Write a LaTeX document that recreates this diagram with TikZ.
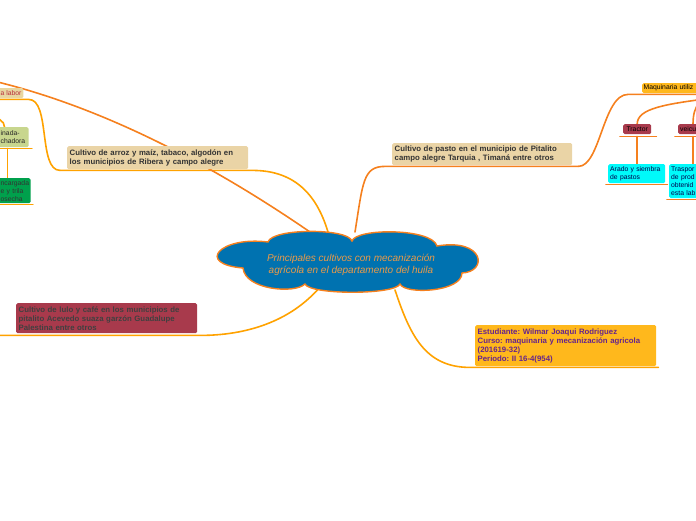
\documentclass[tikz,border=0pt]{standalone}
\usepackage{fontspec}
\setmainfont{Liberation Sans}
\frenchspacing
\usetikzlibrary{calc}
\pgfdeclarelayer{back}
\pgfsetlayers{back,main}
\definecolor{mapO}{RGB}{245,128,30}
\definecolor{mapY}{RGB}{255,162,0}
\definecolor{mapB}{RGB}{0,114,176}
\definecolor{mapT}{RGB}{234,212,166}
\definecolor{mapR}{RGB}{168,58,76}
\definecolor{mapA}{RGB}{255,184,28}
\definecolor{mapC}{RGB}{0,250,250}
\definecolor{mapLG}{RGB}{200,214,142}
\definecolor{mapDG}{RGB}{0,160,76}
\definecolor{mapP}{RGB}{102,36,140}
\definecolor{mapK}{RGB}{232,214,160}
\definecolor{mapTx}{RGB}{234,154,72}
\tikzset{
  topic/.style={rectangle, rounded corners=1.5pt, anchor=north west, align=left,
    inner sep=2.5pt, font=\fontsize{7.8}{9}\selectfont\bfseries, text=black!80},
  leaf/.style={rectangle, rounded corners=1.5pt, anchor=north west, align=left,
    inner sep=2pt, font=\fontsize{6.8}{8}\selectfont, text=black!85},
  conn/.style={line width=1.6pt, mapY, line cap=round},
  connD/.style={line width=1.6pt, mapO, line cap=round}
}

\begin{document}
\begin{tikzpicture}[x=1pt, y=-1pt]
\useasboundingbox (0,0) rectangle (696,520);
\clip (0,0) rectangle (696,520);
% Centre: cloud outline and the main topic
\draw[fill=mapB, draw=mapO, line width=1.4pt]
  (268,242) .. controls (272,228) and (348,228) .. (352,241)
  .. controls (356,228) and (432,228) .. (437,246)
  .. controls (485,238) and (488,272) .. (462,273)
  .. controls (462,292) and (405,295) .. (400,284)
  .. controls (395,295) and (310,295) .. (305,284)
  .. controls (295,294) and (245,290) .. (243,268)
  .. controls (195,264) and (220,236) .. cycle;
\node[align=center, text=mapTx, font=\fontsize{10}{12}\selectfont\itshape] (main) at (351,265)
  {Principales cultivos con mecanización\\agrícola en el departamento del huila};
% Main topics
\node[topic, fill=mapT, text width=176pt, minimum height=23pt] (arroz) at (67,146)
  {Cultivo de arroz y maíz, tabaco, algodón en\\los municipios de Ribera y campo alegre};
\node[topic, fill=mapT, text width=175pt, minimum height=22pt] (pasto) at (392,143)
  {Cultivo de pasto en el municipio de Pitalito\\campo alegre Tarquia , Timaná entre otros};
\node[topic, fill=mapR, text width=176pt, minimum height=30pt, text=black!75] (lulo) at (16,303)
  {Cultivo de lulo y café en los municipios de\\pitalito Acevedo suaza garzón Guadalupe\\Palestina entre otros};
\node[topic, fill=mapA, text width=176pt, minimum height=41pt, text=mapP] (autor) at (475,325)
  {Estudiante: Wilmar Joaqui Rodriguez\\Curso: maquinaria y mecanización agricola\\(201619-32)\\Periodo: II 16-4(954)};
% Left: branch cut by the page edge
\node[leaf, fill=mapK, text=mapR!80!red, minimum height=10pt, inner ysep=1pt] (labor) at (-1.5,88) {a labor};
\node[leaf, fill=mapLG, text width=26pt, minimum height=20pt] (inada) at (-1.5,127) {inada-\\chadora};
\node[leaf, fill=mapDG, text width=28pt, minimum height=25pt, text=black!80] (encarg) at (-1.5,178) {ncargada\\e y trila\\osecha};
% Right: machinery branch cut by the page edge
\node[leaf, fill=mapA, text width=70pt, minimum height=10pt, inner sep=1.5pt, text=black] (maq) at (642,83) {Maquinaria utiliz};
\node[leaf, fill=mapR, text width=25pt, minimum height=10pt, inner xsep=1.5pt, inner ysep=1pt, align=center, text=black] (tractor) at (623,124) {Tractor};
\node[leaf, fill=mapR, text width=40pt, minimum height=10pt, inner ysep=1pt, text=black] (veicu) at (678,124) {veicu};
\node[leaf, fill=mapC, text width=53pt, minimum height=19pt, text=blue!30!black] (arado) at (608,164) {Arado y siembra\\de pastos};
\node[leaf, fill=mapC, text width=40pt, minimum height=34pt, text=blue!30!black] (trasp) at (669,164) {Traspor\\de prod\\obtenid\\esta lab};
\coordinate (offL) at (-40,74);
\coordinate (offL2) at (-12,117);
\coordinate (offR) at (712,98);
\begin{pgfonlayer}{back}
% Connectors from the cloud
\draw[conn] ($(main.center)+(-23,-33)$) .. controls +(-12,-40) and +(40,0) .. ($(arroz.south east)+(4,1)$) -- ($(arroz.south west)+(-7,1)$);
\draw[connD] ($(main.center)+(-41,-33)$) .. controls +(-80,-55) and +(140,25) .. (offL);
\draw[connD] ($(main.center)+(4,-33)$) .. controls +(8,-50) and +(-22,0) .. ($(pasto.south west)+(-7,1)$) -- ($(pasto.south east)+(6,1)$);
\draw[conn] ($(main.center)+(-31,22)$) .. controls +(-30,35) and +(45,0) .. ($(lulo.south east)+(3,2)$) -- ($(lulo.south west)+(-20,2)$);
\draw[conn] ($(main.center)+(44,25)$) .. controls +(15,45) and +(-45,0) .. ($(autor.south west)+(-5,1)$) -- ($(autor.south east)+(2,1)$);
% Left branch
\draw[conn] ($(arroz.south west)+(-7,1)$) .. controls +(-22,0) and +(22,0) .. ($(labor.south east)+(5,1)$) -- ($(labor.south west)+(0,1)$);
\draw[conn] (offL2) .. controls +(10,0) and +(0,-6) .. ($(inada.north west)+(6,0)$);
\draw[conn] ($(inada.south west)+(0,1)$) -- ($(inada.south east)+(3,1)$);
\draw[conn] ($(inada.south west)+(9,1)$) -- ($(encarg.north west)+(9,0)$);
\draw[conn] ($(encarg.south west)+(0,1)$) -- ($(encarg.south east)+(2,1)$);
% Right branch
\draw[connD] ($(pasto.south east)+(6,1)$) .. controls +(22,0) and +(-25,0) .. ($(maq.south west)+(-14,1)$) -- ($(maq.south east)+(0,1)$);
\draw[connD] (tractor.north) .. controls +(0,-16) and +(-45,6) .. (offR);
\draw[connD] ($(veicu.north west)+(15,0)$) .. controls +(0,-20) and +(-10,0) .. (offR);
\draw[connD] ($(tractor.south west)+(-3,2)$) -- ($(tractor.south east)+(5,2)$);
\draw[connD] ($(veicu.south west)+(-3,2)$) -- ($(veicu.south east)+(0,2)$);
\draw[connD] ($(tractor.south)+(0,2)$) -- (tractor.south |- arado.north);
\draw[connD] ($(veicu.south west)+(15,2)$) -- ($(trasp.north west)+(24,0)$);
\draw[connD] ($(arado.south west)+(-2,1)$) -- ($(arado.south east)+(2,1)$);
\draw[connD] ($(trasp.south west)+(-2,1)$) -- ($(trasp.south east)+(0,1)$);
\end{pgfonlayer}
\end{tikzpicture}
\end{document}
